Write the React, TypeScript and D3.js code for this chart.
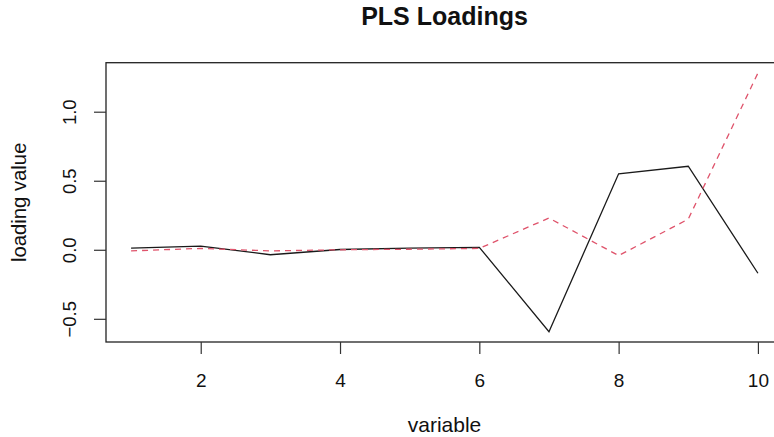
import React, { useRef, useEffect } from 'react';
import * as d3 from 'd3';

const variables = [1, 2, 3, 4, 5, 6, 7, 8, 9, 10];
const comp1 = [0.012, 0.027, -0.036, 0.002, 0.012, 0.018, -0.593, 0.55, 0.605, -0.17];
const comp2 = [-0.008, 0.01, -0.008, 0.0, 0.004, 0.01, 0.23, -0.042, 0.222, 1.28];
const xTicks = [2, 4, 6, 8, 10];
const yTicks = [-0.5, 0.0, 0.5, 1.0];

const W = 774;
const H = 437;
const FONT = '"Liberation Sans", Arial, sans-serif';

const App = () => {
  const ref = useRef(null);

  useEffect(() => {
    const svg = d3.select(ref.current);
    svg.selectAll('*').remove();

    // plot region (R style, right edge runs past the picture)
    const box = { left: 106, right: 783, top: 62.7, bottom: 342 };

    const allY = comp1.concat(comp2);
    const yMin = d3.min(allY);
    const yMax = d3.max(allY);
    const yPad = (yMax - yMin) * 0.04;
    const xPad = (d3.max(variables) - d3.min(variables)) * 0.04;

    const x = d3.scaleLinear()
      .domain([d3.min(variables) - xPad, d3.max(variables) + xPad])
      .range([box.left, box.right]);
    const y = d3.scaleLinear()
      .domain([yMin - yPad, yMax + yPad])
      .range([box.bottom, box.top]);

    const line = d3.line()
      .x((d, i) => x(variables[i]))
      .y(d => y(d));

    svg.append('path')
      .datum(comp1)
      .attr('d', line)
      .attr('fill', 'none')
      .attr('stroke', '#1a1a1a')
      .attr('stroke-width', 1.3);

    svg.append('path')
      .datum(comp2)
      .attr('d', line)
      .attr('fill', 'none')
      .attr('stroke', '#DF536B')
      .attr('stroke-width', 1.3)
      .attr('stroke-dasharray', '6,5');

    // frame
    svg.append('rect')
      .attr('x', box.left)
      .attr('y', box.top)
      .attr('width', box.right - box.left)
      .attr('height', box.bottom - box.top)
      .attr('fill', 'none')
      .attr('stroke', '#222')
      .attr('stroke-width', 1.3);

    // x axis
    const xAxis = svg.append('g')
      .attr('transform', `translate(0,${box.bottom})`)
      .call(d3.axisBottom(x).tickValues(xTicks).tickSize(12).tickPadding(20).tickFormat(d3.format('d')));
    xAxis.select('.domain').remove();
    xAxis.selectAll('.tick line').attr('stroke', '#333').attr('stroke-width', 1.2);
    xAxis.selectAll('.tick text')
      .attr('font-family', FONT)
      .attr('font-size', 19)
      .attr('fill', '#111');

    // y axis
    const yAxis = svg.append('g')
      .attr('transform', `translate(${box.left},0)`)
      .call(d3.axisLeft(y).tickValues(yTicks).tickSize(12).tickFormat(d3.format('.1f')));
    yAxis.select('.domain').remove();
    yAxis.selectAll('.tick line').attr('stroke', '#333').attr('stroke-width', 1.2);
    yAxis.selectAll('.tick text')
      .attr('font-family', FONT)
      .attr('font-size', 18.5)
      .attr('fill', '#111')
      .attr('text-anchor', 'middle')
      .attr('x', null)
      .attr('dy', null)
      .attr('transform', `translate(${76 - box.left},0) rotate(-90)`);

    // labels
    svg.append('text')
      .attr('x', (box.left + box.right) / 2)
      .attr('y', 24.5)
      .attr('text-anchor', 'middle')
      .attr('font-family', FONT)
      .attr('font-size', 25)
      .attr('font-weight', 'bold')
      .attr('fill', '#111')
      .text('PLS Loadings');

    svg.append('text')
      .attr('x', (box.left + box.right) / 2)
      .attr('y', 431.5)
      .attr('text-anchor', 'middle')
      .attr('font-family', FONT)
      .attr('font-size', 21)
      .attr('fill', '#111')
      .text('variable');

    svg.append('text')
      .attr('transform', `translate(26,${(box.top + box.bottom) / 2}) rotate(-90)`)
      .attr('text-anchor', 'middle')
      .attr('font-family', FONT)
      .attr('font-size', 20.3)
      .attr('fill', '#111')
      .text('loading value');
  }, []);

  return (
    <svg
      ref={ref}
      width={W}
      height={H}
      style={{ position: 'absolute', left: 0, top: 0, background: '#fff', overflow: 'hidden' }}
    ></svg>
  );
};

export default App;
